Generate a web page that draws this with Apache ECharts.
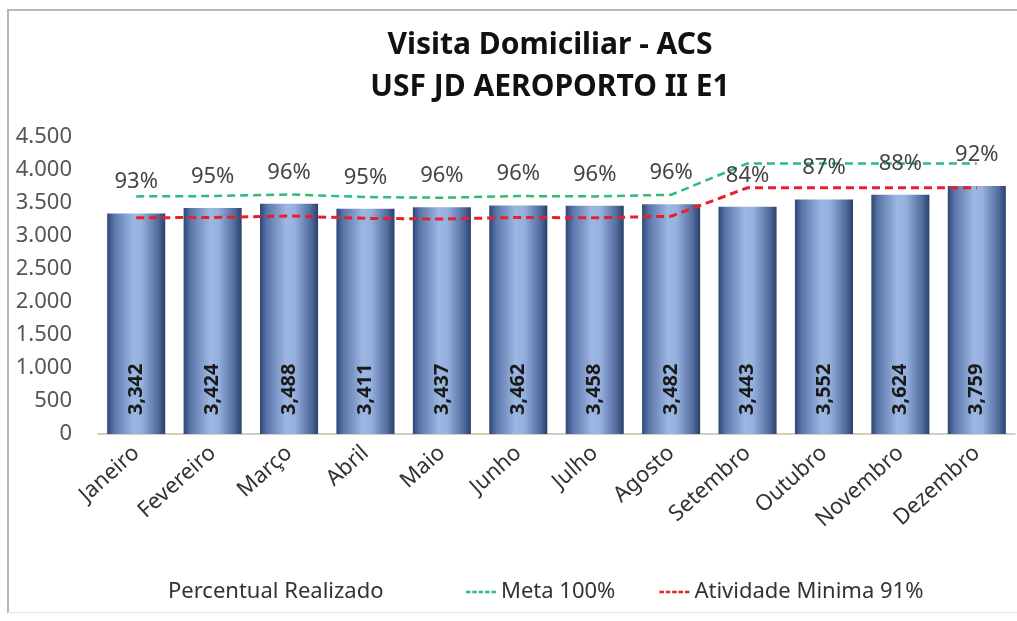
<!DOCTYPE html>
<html>
<head>
<meta charset="utf-8">
<script src="https://cdn.jsdelivr.net/npm/echarts@6/dist/echarts.min.js"></script>
<style>
html,body{margin:0;padding:0;background:#fff;}
#frame{position:absolute;left:7px;top:9px;width:1020px;height:604px;border-left:2px solid #b8b8b8;border-top:2px solid #b8b8b8;border-bottom:1px solid #e4e4e4;box-sizing:border-box;}
#chart{position:absolute;left:0;top:0;width:1017px;height:621px;}
</style>
</head>
<body>
<div id="frame"></div>
<div id="chart"></div>
<script>
const months = ['Janeiro','Fevereiro','Março','Abril','Maio','Junho','Julho','Agosto','Setembro','Outubro','Novembro','Dezembro'];
const realizado = [3342,3424,3488,3411,3437,3462,3458,3482,3443,3552,3624,3759];
const percentual = [93,95,96,95,96,96,96,96,84,87,88,92];
const meta100 = [3600,3605,3630,3590,3580,3605,3600,3625,4100,4100,4100,4100];
const minima91 = [3276,3281,3303,3267,3258,3281,3276,3299,3731,3731,3731,3731];
const yTicks = {min:0, max:4500, interval:500};

const FONT = 'Noto Sans';
const chart = echarts.init(document.getElementById('chart'));
const fmtDot = v => String(v).replace(/\B(?=(\d{3})+(?!\d))/g, '.');
const fmtComma = v => String(v).replace(/\B(?=(\d{3})+(?!\d))/g, ',');
const dashIcon = 'path://M0,0H5V3H0Z M7,0H12V3H7Z M14,0H19V3H14Z M21,0H26V3H21Z M28,0H33V3H28Z';
const legendText = {fontFamily:FONT, fontSize:22, color:'#333'};

chart.setOption({
  animation:false,
  textStyle:{fontFamily:FONT},
  title:{
    text:'Visita Domiciliar - ACS\nUSF JD AEROPORTO II E1',
    left:545, top:19, textAlign:'center',
    textStyle:{fontFamily:FONT, fontWeight:'bold', fontSize:30, lineHeight:42, color:'#111'}
  },
  legend:[
    {
      top:576, left:130, itemWidth:28, itemHeight:4,
      textStyle:legendText,
      data:[{name:'Percentual Realizado', icon:'rect', itemStyle:{color:'rgba(0,0,0,0)'}}]
    },
    {
      top:576, left:461, itemGap:44, itemWidth:30, itemHeight:4,
      textStyle:legendText,
      data:[
        {name:'Meta 100%', icon:dashIcon, itemStyle:{color:'#2dbb78'}},
        {name:'Atividade Minima 91%', icon:dashIcon, itemStyle:{color:'#e8202c'}}
      ]
    }
  ],
  grid:{left:98, right:2, top:137, bottom:187},
  xAxis:{
    type:'category', data:months,
    axisLine:{lineStyle:{color:'#c9bfa8', width:1.5}},
    axisTick:{show:false},
    axisLabel:{rotate:42, fontSize:22, color:'#333', margin:16}
  },
  yAxis:{
    type:'value', min:yTicks.min, max:yTicks.max, interval:yTicks.interval,
    splitLine:{show:false},
    axisLine:{show:false}, axisTick:{show:false},
    axisLabel:{fontSize:22, color:'#555', margin:26, formatter:fmtDot}
  },
  series:[
    {
      name:'Realizado', type:'bar', data:realizado, barCategoryGap:'24%',
      itemStyle:{color:new echarts.graphic.LinearGradient(0,0,1,0,[
        {offset:0,color:'#2f4676'},{offset:0.12,color:'#5a76aa'},
        {offset:0.45,color:'#9db7e2'},{offset:0.6,color:'#95b0dd'},
        {offset:0.88,color:'#4f6a9c'},{offset:1,color:'#2b3f69'}])},
      label:{show:true, position:'insideBottom', rotate:90, align:'left', verticalAlign:'middle',
        distance:19, fontSize:20, fontWeight:'bold', color:'#1a1a1a', formatter:p=>fmtComma(p.value)}
    },
    {
      name:'Percentual Realizado', type:'line', data:realizado,
      symbol:'circle', symbolSize:1, showSymbol:true,
      lineStyle:{width:0, color:'rgba(0,0,0,0)'}, itemStyle:{color:'rgba(0,0,0,0)'},
      label:{show:true, position:'top', distance:20, fontSize:22, color:'#444',
        formatter:p=>percentual[p.dataIndex]+'%'},
      z:5
    },
    {
      name:'Meta 100%', type:'line', data:meta100, symbol:'none',
      itemStyle:{color:'#2dbb78'},
      lineStyle:{color:'#2dbb78', width:2.5, type:[8,5]}, z:3
    },
    {
      name:'Atividade Minima 91%', type:'line', data:minima91, symbol:'none',
      itemStyle:{color:'#e8202c'},
      lineStyle:{color:'#e8202c', width:3, type:[8,5]}, z:4
    }
  ]
});
</script>
</body>
</html>
